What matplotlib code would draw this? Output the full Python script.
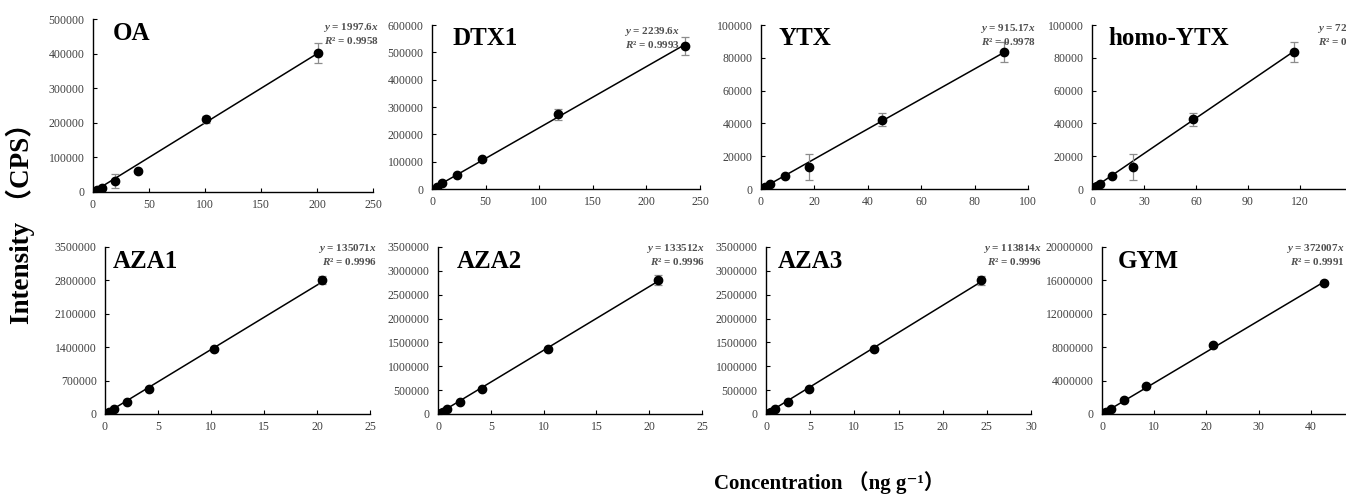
import numpy as np
import matplotlib
matplotlib.use('Agg')
import matplotlib.pyplot as plt

plt.rcParams['font.family'] = ['Liberation Serif', 'DejaVu Serif', 'Noto Sans CJK SC']
plt.rcParams['mathtext.fontset'] = 'custom'
plt.rcParams['mathtext.rm'] = 'Liberation Serif:bold'
plt.rcParams['mathtext.it'] = 'Liberation Serif:italic:bold'

# ---- data ----
names = ['OA', 'DTX1', 'YTX', 'homo-YTX', 'AZA1', 'AZA2', 'AZA3', 'GYM']
slopes = ['1997.6', '2239.6', '915.17', '720.63', '135071', '133512', '113814', '372007']
r2 = ['0.9958', '0.9993', '0.9978', '0.9978', '0.9996', '0.9996', '0.9996', '0.9991']

oa_x = [4, 8, 20, 40, 101, 201]
oa_y = [5000, 12000, 33000, 60000, 210000, 402000]
oa_err = [2000, 3000, 20000, 4000, 10000, 30000]

dtx1_x = [4.7, 9.4, 23.5, 47, 118, 236]
dtx1_y = [8000, 22000, 53000, 108000, 273000, 524000]
dtx1_err = [1000, 2000, 3000, 4000, 20000, 33000]

ytx_x = [1.5, 3.4, 9, 18, 45.5, 91]
ytx_y = [1200, 3000, 7700, 13400, 42300, 83500]
ytx_err = [300, 500, 600, 8000, 4000, 6000]

hytx_x = [1.5, 2.9, 4.7, 11.7, 23.4, 58.4, 116.8]
hytx_y = [1200, 2000, 3000, 7800, 13400, 42500, 83500]
hytx_err = [300, 300, 500, 600, 8000, 4000, 6000]

aza1_x = [0.4, 0.85, 2.07, 4.15, 10.3, 20.5]
aza1_y = [35000, 97000, 244000, 529000, 1357000, 2804000]
aza1_err = [5000, 8000, 10000, 20000, 30000, 80000]

aza2_x = [0.3, 0.47, 0.85, 2.05, 4.16, 10.4, 20.8]
aza2_y = [21000, 42000, 97000, 244000, 529000, 1357000, 2804000]
aza2_err = [3000, 5000, 8000, 10000, 20000, 30000, 100000]

aza3_x = [0.38, 0.6, 1.05, 2.45, 4.86, 12.2, 24.35]
aza3_y = [21000, 40000, 97000, 244000, 529000, 1357000, 2800000]
aza3_err = [3000, 5000, 8000, 10000, 20000, 30000, 100000]

gym_x = [0.3, 0.7, 1.67, 4.23, 8.5, 21.2, 42.5]
gym_y = [100000, 200000, 600000, 1670000, 3300000, 8230000, 15670000]
gym_err = [10000, 20000, 30000, 50000, 80000, 150000, 200000]

xs = [oa_x, dtx1_x, ytx_x, hytx_x, aza1_x, aza2_x, aza3_x, gym_x]
ys = [oa_y, dtx1_y, ytx_y, hytx_y, aza1_y, aza2_y, aza3_y, gym_y]
errs = [oa_err, dtx1_err, ytx_err, hytx_err, aza1_err, aza2_err, aza3_err, gym_err]

x_ticks = [np.arange(0, 251, 50), np.arange(0, 251, 50), np.arange(0, 101, 20),
           np.arange(0, 151, 30), np.arange(0, 26, 5), np.arange(0, 26, 5),
           np.arange(0, 31, 5), np.arange(0, 51, 10)]
y_ticks = [np.arange(0, 500001, 100000), np.arange(0, 600001, 100000),
           np.arange(0, 100001, 20000), np.arange(0, 100001, 20000),
           np.arange(0, 3500001, 700000), np.arange(0, 3500001, 500000),
           np.arange(0, 3500001, 500000), np.arange(0, 20000001, 4000000)]

# axes boxes in pixels: left, right, top, bottom (right-most column runs past the edge)
boxes = [(93, 373, 19, 192), (432, 700, 25, 189), (761, 1028, 25, 189), (1092, 1352, 25, 189),
         (105, 370, 247, 414), (438, 702, 247, 414), (766, 1031, 247, 414), (1102, 1363, 247, 414)]
title_x = [0.07, 0.075, 0.065, 0.065, 0.03, 0.072, 0.045, 0.06]
eq_pos = [(1.02, 0.99), (0.925, 1.0), (1.03, 1.02), (1.08, 1.02),
          (1.026, 1.03), (1.01, 1.03), (1.04, 1.03), (0.93, 1.03)]

W, H = 1346, 495
fig = plt.figure(figsize=(W / 100, H / 100), dpi=100)
tick_color = '#404040'

for i in range(8):
    l, r, t, b = boxes[i]
    ax = fig.add_axes([l / W, 1 - b / H, (r - l) / W, (b - t) / H])
    x = np.array(xs[i])
    y = np.array(ys[i])
    slope = float(slopes[i])
    xl = np.array([x.min(), x.max()])
    ax.plot(xl, slope * xl, color='black', lw=1.1, zorder=2)
    ax.errorbar(x, y, yerr=errs[i], fmt='o', color='black', ms=6,
                ecolor='#8c8c8c', elinewidth=0.9, capsize=3, capthick=0.9, zorder=3)
    ax.set_xlim(x_ticks[i][0], x_ticks[i][-1])
    ax.set_ylim(y_ticks[i][0], y_ticks[i][-1])
    ax.set_xticks(x_ticks[i])
    # last label of the right-most column sits off the picture in the original
    xlabels = [str(v) for v in x_ticks[i]]
    if i in (3, 7):
        xlabels[-1] = ''
    ax.set_xticklabels(xlabels)
    ax.set_yticks(y_ticks[i])
    ax.set_yticklabels([str(v) for v in y_ticks[i]])
    for s in ['top', 'right']:
        ax.spines[s].set_visible(False)
    for s in ['left', 'bottom']:
        ax.spines[s].set_color('black')
        ax.spines[s].set_linewidth(1.0)
    ax.tick_params(direction='in', length=3, width=0.8, labelsize=8.5,
                   labelcolor=tick_color, color='black')
    ax.tick_params(axis='y', pad=6)
    ax.tick_params(axis='x', pad=5)
    ax.patch.set_alpha(0)
    ax.text(title_x[i], 0.985, names[i], transform=ax.transAxes, ha='left', va='top',
            fontsize=18, fontweight='bold', color='black')
    ex, ey = eq_pos[i]
    ax.text(ex, ey, '$y$ = ' + slopes[i] + '$x$\n$R$² = ' + r2[i],
            transform=ax.transAxes, ha='right', va='top', fontsize=8,
            fontweight='bold', color='#505050', linespacing=1.1, clip_on=False)

fig.text(20 / W, 1 - 217 / H, 'Intensity （CPS）', rotation=90, ha='center', va='center',
         fontsize=19.5, fontweight='bold')
fig.text(829 / W, 1 - 483 / H, 'Concentration （ng g⁻¹）', ha='center', va='center',
         fontsize=15, fontweight='bold')

fig.savefig('out.png', dpi=100)
